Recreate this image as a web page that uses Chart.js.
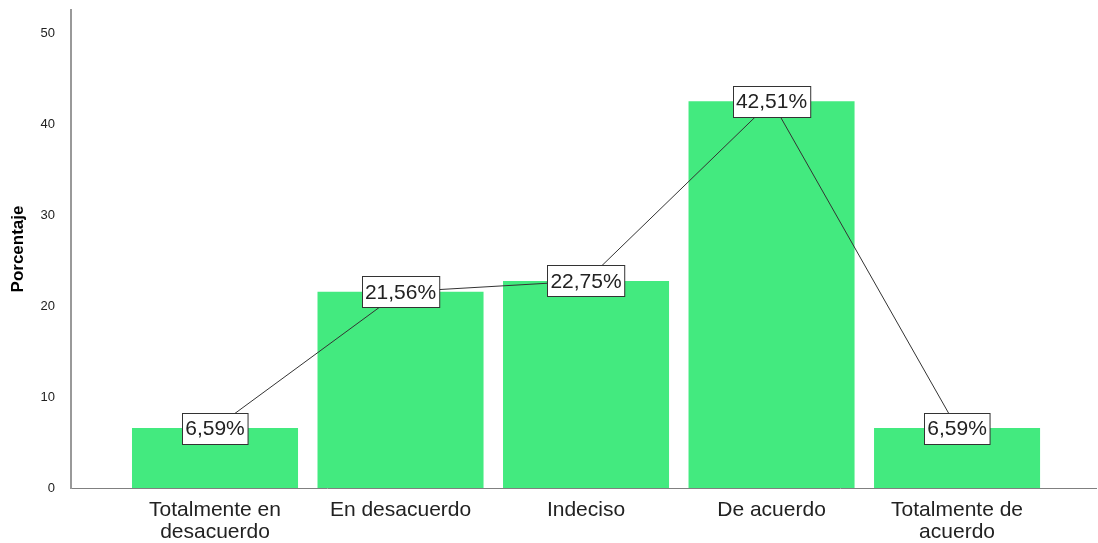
<!DOCTYPE html>
<html>
<head>
<meta charset="utf-8">
<script src="https://cdn.jsdelivr.net/npm/chart.js@4/dist/chart.umd.min.js"></script>
<style>
  html, body { margin: 0; padding: 0; background: #fff; }
  #wrap { width: 1098px; height: 543px; }
</style>
</head>
<body>
<div id="wrap"><canvas id="c" width="1098" height="543"></canvas></div>
<script>
const categories = ["Totalmente en desacuerdo", "En desacuerdo", "Indeciso", "De acuerdo", "Totalmente de acuerdo"];
const tickLabels = [["Totalmente en", "desacuerdo"], ["En desacuerdo"], ["Indeciso"], ["De acuerdo"], ["Totalmente de", "acuerdo"]];
const values = [6.59, 21.56, 22.75, 42.51, 6.59];
const valueLabels = ["6,59%", "21,56%", "22,75%", "42,51%", "6,59%"];
const yTicks = [0, 10, 20, 30, 40, 50];

const FONT = "'Liberation Sans', Arial, sans-serif";
const points = categories.map((c, i) => ({ x: i, y: values[i] }));

const boxLabels = {
  id: 'boxLabels',
  afterDatasetsDraw(chart) {
    const meta = chart.getDatasetMeta(1);
    const ctx = chart.ctx;
    ctx.save();
    ctx.font = "21px " + FONT;
    ctx.textAlign = 'center';
    ctx.textBaseline = 'middle';
    meta.data.forEach((el, i) => {
      const t = valueLabels[i];
      const w = ctx.measureText(t).width + 6;
      const h = 31;
      const x = Math.round(el.x - w / 2) + 0.5;
      const y = Math.round(el.y - h / 2) + 0.5;
      ctx.fillStyle = '#ffffff';
      ctx.fillRect(x, y, w, h);
      ctx.strokeStyle = '#333333';
      ctx.lineWidth = 1;
      ctx.strokeRect(x, y, w, h);
      ctx.fillStyle = '#222222';
      ctx.fillText(t, el.x, el.y + 1);
    });
    ctx.restore();
  }
};

new Chart(document.getElementById('c'), {
  data: {
    datasets: [
      {
        type: 'bar',
        data: points,
        backgroundColor: '#43EA7F',
        borderWidth: 0,
        categoryPercentage: 1,
        barPercentage: 0.895,
        order: 2
      },
      {
        type: 'line',
        data: points,
        borderColor: '#333333',
        borderWidth: 1,
        pointRadius: 0,
        fill: false,
        tension: 0,
        order: 1
      }
    ]
  },
  options: {
    responsive: false,
    animation: false,
    layout: { padding: { top: 10, right: 2, left: 0, bottom: 0 } },
    plugins: { legend: { display: false }, tooltip: { enabled: false } },
    scales: {
      x: {
        type: 'linear',
        offset: false,
        min: -0.7763,
        max: 4.749,
        grid: { display: false, offset: false },
        border: { display: true, color: '#808080', width: 1 },
        afterBuildTicks: (s) => { s.ticks = categories.map((_, i) => ({ value: i })); },
        afterFit: (s) => { s.height = 55; s.paddingLeft = 0; s.paddingRight = 0; },
        ticks: {
          autoSkip: false,
          maxRotation: 0,
          padding: 3,
          color: '#222222',
          font: { family: FONT, size: 21, lineHeight: 1.05 },
          callback: (v) => tickLabels[v] || ''
        }
      },
      y: {
        type: 'linear',
        min: 0,
        max: 52.53,
        grid: { display: false },
        border: { display: true, color: '#999999', width: 2 },
        afterBuildTicks: (s) => { s.ticks = yTicks.map(v => ({ value: v })); },
        afterFit: (s) => { s.width = 71; s.paddingTop = 0; s.paddingBottom = 0; },
        ticks: {
          padding: 8,
          color: '#222222',
          font: { family: FONT, size: 13 }
        },
        title: {
          display: true,
          text: 'Porcentaje',
          color: '#000000',
          font: { family: FONT, size: 17, weight: 'bold' },
          padding: { top: 8, bottom: 0 }
        }
      }
    }
  },
  plugins: [boxLabels]
});
</script>
</body>
</html>
